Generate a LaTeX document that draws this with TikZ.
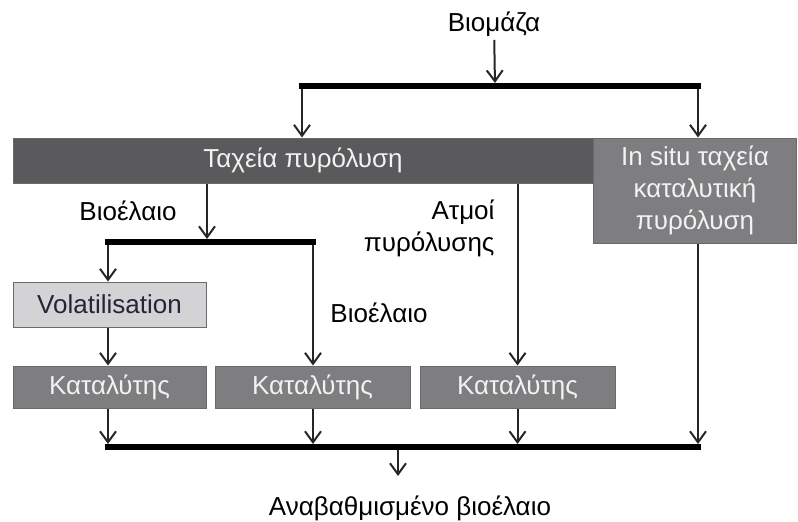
\documentclass[tikz,border=0pt]{standalone}
\usepackage{fontspec}
\setmainfont{Liberation Sans}
\usetikzlibrary{arrows.meta}
\definecolor{darkbox}{HTML}{5A5A5C}
\definecolor{midbox}{HTML}{7E7E80}
\definecolor{lightbox}{HTML}{D3D3D5}
\definecolor{boxline}{HTML}{6A6A6C}
\definecolor{voltext}{HTML}{25253A}

\begin{document}
\begin{tikzpicture}[x=1pt, y=-1pt,
  font=\fontsize{26}{32}\selectfont,
  box/.style={draw=boxline, line width=1pt, inner sep=0pt, text=white!95!black},
  arr/.style={-{Straight Barb[length=11pt, width=16pt]}, line width=2pt, draw=black!85},
  bar/.style={line width=6.5pt, line cap=rect}]
\useasboundingbox (0,0) rectangle (798,522);

% boxes
\node [box, fill=darkbox, minimum width=580, minimum height=45] (fast) at (303,160.5) {Ταχεία πυρόλυση};
\node [box, fill=midbox, minimum width=203, minimum height=105, align=center] (insitu) at (695,190.5) {In situ ταχεία\\καταλυτική\\πυρόλυση};
\node [box, fill=lightbox, text=voltext, minimum width=193, minimum height=45] (vol) at (109.5,304.5) {Volatilisation};
\node [box, fill=midbox, minimum width=193, minimum height=42] (cat1) at (109.5,387) {Καταλύτης};
\node [box, fill=midbox, minimum width=195, minimum height=42] (cat2) at (312.5,387) {Καταλύτης};
\node [box, fill=midbox, minimum width=195, minimum height=42] (cat3) at (517.5,387) {Καταλύτης};

% labels
\node (bio) at (494,24) {Βιομάζα};
\node (oil1) at (128,211) {Βιοέλαιο};
\node [align=right, anchor=east] (vap) at (498,228) {Ατμοί\\πυρόλυσης};
\node (oil2) at (379,313) {Βιοέλαιο};
\node (out) at (410,508) {Αναβαθμισμένο βιοέλαιο};

% bars
\coordinate (b1l) at (302,86);
\coordinate (b1m) at (495,86);
\coordinate (b1r) at (698,86);
\coordinate (b2l) at (108,242);
\coordinate (b2m) at (207,242);
\coordinate (b2r) at (313,242);
\coordinate (b3l) at (108,447);
\coordinate (b3m) at (398,447);
\coordinate (b3r) at (698,447);

\draw [arr, shorten >=3pt] (bio) -- (b1m);
\draw [arr] (b1l) -- (b1l |- fast.north);
\draw [arr] (b1r) -- (b1r |- insitu.north);
\draw [arr, shorten >=3pt] (fast.south -| b2m) -- (b2m);
\draw [arr] (b2l) -- (b2l |- vol.north);
\draw [arr] (vol.south -| b2l) -- (b2l |- cat1.north);
\draw [arr] (b2r) -- (b2r |- cat2.north);
\draw [arr] (fast.south -| cat3) -- (cat3.north);
\draw [arr, shorten >=3pt] (insitu.south -| b3r) -- (b3r);
\draw [arr, shorten >=3pt] (cat1.south -| b3l) -- (b3l);
\draw [arr, shorten >=3pt] (cat2.south -| b2r) -- (b2r |- b3l);
\draw [arr, shorten >=3pt] (cat3.south) -- (cat3.south |- b3l);
\draw [arr, shorten >=16pt] (b3m) -- (b3m |- out.north);

\draw [bar] (b1l) -- (b1r);
\draw [bar] (b2l) -- (b2r);
\draw [bar] (b3l) -- (b3r);
\end{tikzpicture}
\end{document}
